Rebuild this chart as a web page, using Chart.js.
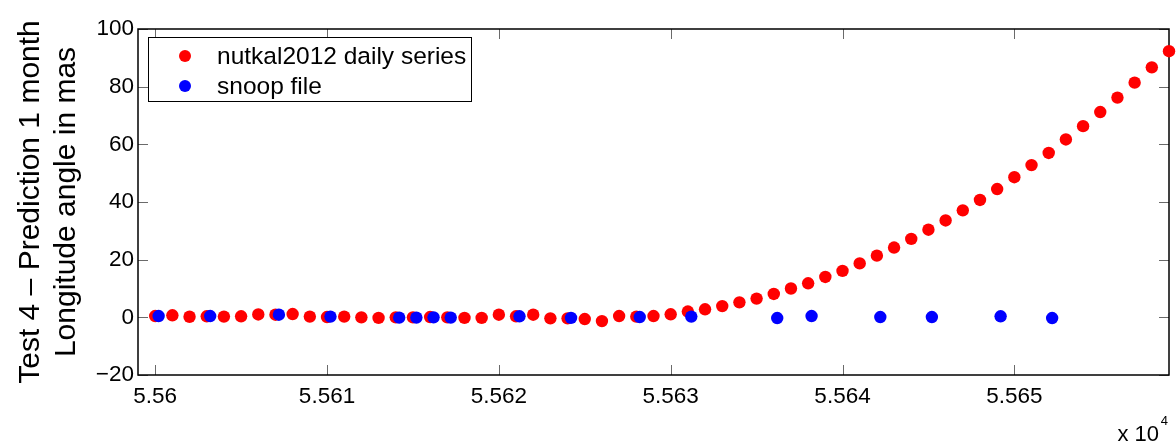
<!DOCTYPE html>
<html>
<head>
<meta charset="utf-8">
<script src="https://cdn.jsdelivr.net/npm/chart.js@4/dist/chart.umd.min.js"></script>
<style>
  html, body { margin: 0; padding: 0; background: #fff; }
  #wrap { width: 1176px; height: 443px; }
</style>
</head>
<body>
<div id="wrap"><canvas id="chart" width="1176" height="443"></canvas></div>
<script>
// nutkal2012 daily series (MJD, mas)
const nutkalDays = [
  55600, 55601, 55602, 55603, 55604, 55605, 55606, 55607, 55608, 55609,
  55610, 55611, 55612, 55613, 55614, 55615, 55616, 55617, 55618, 55619,
  55620, 55621, 55622, 55623, 55624, 55625, 55626, 55627, 55628, 55629,
  55630, 55631, 55632, 55633, 55634, 55635, 55636, 55637, 55638, 55639,
  55640, 55641, 55642, 55643, 55644, 55645, 55646, 55647, 55648, 55649,
  55650, 55651, 55652, 55653, 55654, 55655, 55656, 55657, 55658, 55659
];
const nutkalValues = [
  0.45, 0.7, 0.2, 0.35, 0.25, 0.35, 1.0, 0.9, 1.15, 0.25,
  0.1, 0.25, 0.0, -0.2, 0.0, 0.0, 0.1, 0.0, -0.2, -0.2,
  0.9, 0.35, 0.9, -0.35, -0.35, -0.6, -1.3, 0.45, 0.25, 0.45,
  1.05, 2.0, 2.8, 3.9, 5.2, 6.5, 8.1, 10.0, 11.8, 14.0,
  16.1, 18.7, 21.4, 24.2, 27.2, 30.4, 33.6, 37.1, 40.7, 44.5,
  48.6, 52.8, 57.0, 61.7, 66.3, 71.2, 76.2, 81.4, 86.7, 92.3
];

// snoop file
const snoopDays = [
  55600.2, 55603.2, 55607.2, 55610.2, 55614.2, 55615.2, 55616.2, 55617.2, 55621.2,
  55624.2, 55628.2, 55631.2, 55636.2, 55638.2, 55642.2, 55645.2, 55649.2, 55652.2
];
const snoopValues = [
  0.45, 0.45, 0.9, 0.25, -0.1, -0.1, 0.0, -0.1, 0.35,
  -0.2, 0.1, 0.25, -0.25, 0.45, 0.1, 0.1, 0.35, -0.25
];

const xTickValues = [55600, 55610, 55620, 55630, 55640, 55650];
const xTickLabels = ['5.56', '5.561', '5.562', '5.563', '5.564', '5.565'];
const yTickValues = [-20, 0, 20, 40, 60, 80, 100];
const yTickLabels = ['\u221220', '0', '20', '40', '60', '80', '100'];

const FONT = "'Liberation Sans', Arial, Helvetica, sans-serif";

const toPoints = (xs, ys) => xs.map((x, i) => ({ x: x, y: ys[i] }));

// box + inward ticks, MATLAB style
const framePlugin = {
  id: 'frame',
  beforeDatasetsDraw(chart) {
    const { ctx, chartArea: a, scales: { x, y } } = chart;
    ctx.save();
    ctx.strokeStyle = '#6a6a6a';
    ctx.lineWidth = 1;
    ctx.beginPath();
    xTickValues.forEach(v => {
      const px = Math.round(x.getPixelForValue(v)) + 0.5;
      ctx.moveTo(px, a.bottom); ctx.lineTo(px, a.bottom - 10);
      ctx.moveTo(px, a.top); ctx.lineTo(px, a.top + 10);
    });
    yTickValues.forEach(v => {
      const py = Math.round(y.getPixelForValue(v)) + 0.5;
      ctx.moveTo(a.left, py); ctx.lineTo(a.left + 10, py);
      ctx.moveTo(a.right, py); ctx.lineTo(a.right - 10, py);
    });
    ctx.stroke();
    ctx.strokeStyle = '#000';
    ctx.lineWidth = 1.5;
    ctx.strokeRect(a.left, a.top, a.right - a.left, a.bottom - a.top);
    ctx.restore();
  },
  afterDraw(chart) {
    const { ctx, chartArea: a } = chart;
    ctx.save();
    ctx.fillStyle = '#000';
    ctx.textAlign = 'right';
    ctx.textBaseline = 'alphabetic';
    ctx.font = '13px ' + FONT;
    ctx.fillText('4', a.right - 1, 425);
    ctx.font = '22px ' + FONT;
    ctx.fillText('x 10', a.right - 10, 441);
    ctx.restore();
  }
};

// legend box in the upper left of the axes
const legendPlugin = {
  id: 'boxLegend',
  afterDraw(chart) {
    const { ctx } = chart;
    const bx = 148, by = 37, bw = 323, bh = 64;
    ctx.save();
    ctx.fillStyle = '#fff';
    ctx.fillRect(bx, by, bw, bh);
    ctx.strokeStyle = '#000';
    ctx.lineWidth = 1;
    ctx.strokeRect(bx + 0.5, by + 0.5, bw, bh);
    ctx.font = '24.5px ' + FONT;
    ctx.textBaseline = 'middle';
    ctx.textAlign = 'left';
    const rows = [chart.data.datasets[1], chart.data.datasets[0]];
    rows.forEach((ds, i) => {
      const cy = by + 19 + i * 30;
      ctx.fillStyle = ds.backgroundColor;
      ctx.beginPath();
      ctx.arc(185, cy, 6, 0, Math.PI * 2);
      ctx.fill();
      ctx.fillStyle = '#000';
      ctx.fillText(ds.label, 217, cy + 1);
    });
    ctx.restore();
  }
};

new Chart(document.getElementById('chart'), {
  type: 'scatter',
  data: {
    datasets: [
      {
        label: 'snoop file',
        data: toPoints(snoopDays, snoopValues),
        backgroundColor: '#0000ff',
        borderWidth: 0,
        pointRadius: 6.2,
        order: 1,
        clip: false
      },
      {
        label: 'nutkal2012 daily series',
        data: toPoints(nutkalDays, nutkalValues),
        backgroundColor: '#ff0000',
        borderWidth: 0,
        pointRadius: 6.2,
        order: 2,
        clip: false
      }
    ]
  },
  options: {
    responsive: false,
    animation: false,
    devicePixelRatio: 1,
    layout: { padding: { top: 29, right: 7, left: 0, bottom: 0 } },
    plugins: {
      legend: { display: false },
      tooltip: { enabled: false }
    },
    scales: {
      x: {
        type: 'linear',
        min: 55599,
        max: 55659,
        afterFit: s => { s.height = 68; },
        afterBuildTicks: s => { s.ticks = xTickValues.map(v => ({ value: v })); },
        grid: { display: false, drawTicks: false },
        border: { display: false },
        ticks: {
          padding: 8,
          color: '#000',
          font: { family: FONT, size: 22.5 },
          maxRotation: 0,
          callback: v => xTickLabels[xTickValues.indexOf(v)]
        }
      },
      y: {
        min: -20,
        max: 100,
        afterFit: s => { s.width = 138; },
        afterBuildTicks: s => { s.ticks = yTickValues.map(v => ({ value: v })); },
        grid: { display: false, drawTicks: false },
        border: { display: false },
        ticks: {
          padding: 4,
          color: '#000',
          font: { family: FONT, size: 22.5 },
          callback: v => yTickLabels[yTickValues.indexOf(v)]
        },
        title: {
          display: true,
          text: ['Test 4 \u2013 Prediction 1 month', 'Longitude angle in mas'],
          color: '#000',
          font: { family: FONT, size: 30, lineHeight: 1.2 },
          padding: { top: 13, bottom: 0 }
        }
      }
    }
  },
  plugins: [framePlugin, legendPlugin]
});
</script>
</body>
</html>
